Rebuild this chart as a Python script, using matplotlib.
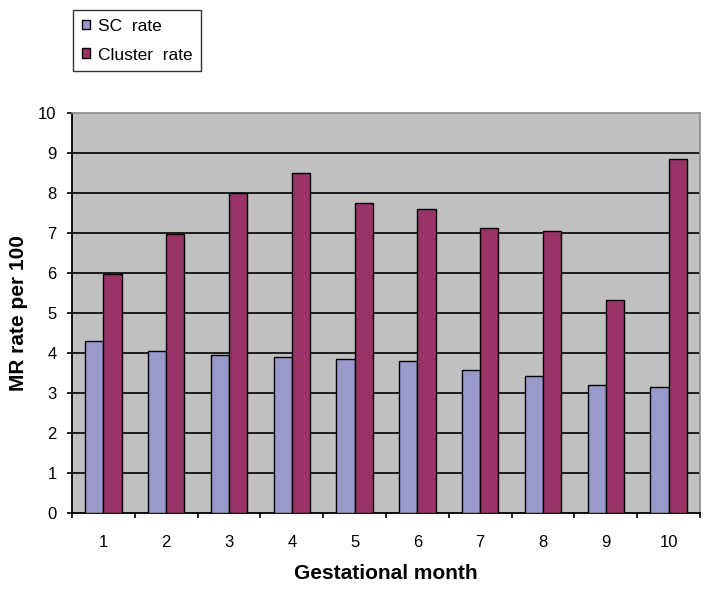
import matplotlib
matplotlib.use("Agg")
import matplotlib.pyplot as plt
import numpy as np
from matplotlib.ticker import FixedLocator, NullFormatter

months = ["1", "2", "3", "4", "5", "6", "7", "8", "9", "10"]
sc_rate = [4.30, 4.06, 3.95, 3.91, 3.84, 3.80, 3.57, 3.42, 3.19, 3.15]
cluster_rate = [5.98, 6.98, 7.99, 8.50, 7.74, 7.60, 7.13, 7.05, 5.33, 8.84]
series_names = ["SC  rate", "Cluster  rate"]

plt.rcParams['font.family'] = ["Liberation Sans", "DejaVu Sans"]
tick_size, leg_size = 12, 12.5

fig = plt.figure(figsize=(7.14, 5.90), dpi=100)
ax = fig.add_axes([72/714, 77/590, 628/714, 400/590])
ax.set_facecolor("#C0C0C0")

x = np.arange(len(months))
w = 0.29
b1 = ax.bar(x - w/2, sc_rate, w, color="#9999CC", edgecolor="black", linewidth=1.0,
            label=series_names[0], zorder=3)
b2 = ax.bar(x + w/2, cluster_rate, w, color="#993366", edgecolor="black", linewidth=1.0,
            label=series_names[1], zorder=3)

ax.set_xlim(-0.5, len(months) - 0.5)
ax.set_ylim(0, 10)
ax.set_yticks(range(0, 11))
ax.yaxis.grid(True, color="black", linewidth=1.2, zorder=1)
ax.set_axisbelow(True)
ax.set_xticks(x)
ax.set_xticklabels(months)
ax.tick_params(axis='x', which='major', length=0, pad=15.5, labelsize=tick_size)
ax.xaxis.set_minor_locator(FixedLocator(np.arange(-0.5, len(months), 1.0)))
ax.xaxis.set_minor_formatter(NullFormatter())
ax.tick_params(axis='x', which='minor', length=3.6, width=1.2, direction='out', color='black')
ax.tick_params(axis='y', length=3.6, width=1.2, direction='out', labelsize=tick_size, pad=7.5)

for s in ["top", "right"]:
    ax.spines[s].set_color("#8C8C8C")
    ax.spines[s].set_linewidth(1.2)
for s in ["left", "bottom"]:
    ax.spines[s].set_color("black")
    ax.spines[s].set_linewidth(1.3)

gl = ax.yaxis.get_gridlines()
gl[-1].set_visible(False)
gl[0].set_visible(False)

ax.set_xlabel("Gestational month", fontsize=15, fontweight="bold", labelpad=10.5)
ax.set_ylabel("MR rate per 100", fontsize=15, fontweight="bold", labelpad=7.5)

leg = fig.legend(handles=[b1, b2], loc="upper left", bbox_to_anchor=(73/714, 1 - 10/590),
                 frameon=True, fancybox=False, edgecolor="black", fontsize=leg_size,
                 handlelength=0.5, handleheight=0.5, handletextpad=0.45,
                 borderpad=0.5, labelspacing=0.8, borderaxespad=0)
leg.get_frame().set_linewidth(1.0)

fig.savefig("out.png", dpi=100, facecolor="white")
